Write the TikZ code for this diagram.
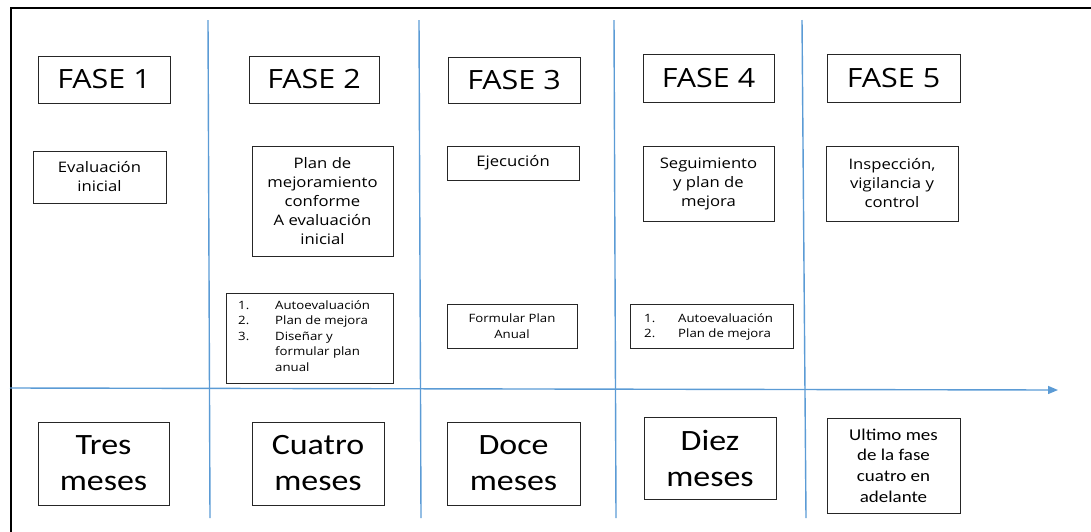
\documentclass[tikz,border=0pt]{standalone}
\usepackage{fontspec}
\setmainfont{Open Sans}[FakeStretch=1.15]
\newfontfamily\calib{Carlito}[FakeStretch=1.15]
\usetikzlibrary{arrows.meta}
\definecolor{axisblue}{RGB}{91,155,213}
\tikzset{
  box/.style={draw=black!85, line width=1pt, inner sep=0pt, align=center},
  fase/.style={box, font=\fontsize{26.5}{32}\selectfont},
  mid/.style={box, font=\fontsize{14.5}{19}\selectfont},
  small/.style={box, font=\fontsize{11.5}{15.5}\selectfont},
  big/.style={box, font=\calib\fontsize{29.5}{36}\selectfont},
  bigs/.style={box, font=\calib\fontsize{16.5}{20.7}\selectfont},
  listtxt/.style={inner sep=0pt, anchor=north west, font=\fontsize{11.5}{15.5}\selectfont},
  sep/.style={draw=axisblue, line width=1.4pt},
}
\begin{document}
\begin{tikzpicture}[x=1pt,y=-1pt]
\useasboundingbox (0,0) rectangle (1091,531);
% outer frame
\coordinate (fb) at (11,531);
\coordinate (ftl) at (11,8);
\coordinate (fr) at (1091,8);
\draw[line width=2pt, line cap=rect] (fb) -- (ftl) -- (fr);
% separators
\coordinate (s1t) at (208,20); \coordinate (s1b) at (210,518);
\coordinate (s2t) at (419,20); \coordinate (s2b) at (421,518);
\coordinate (s3t) at (614,20); \coordinate (s3b) at (616,518);
\coordinate (s4t) at (802,20); \coordinate (s4b) at (806,518);
\draw[sep] (s1t) -- (s1b);
\draw[sep] (s2t) -- (s2b);
\draw[sep] (s3t) -- (s3b);
\draw[sep] (s4t) -- (s4b);
% axis
\coordinate (a0) at (10,388);
\coordinate (a1) at (1058,390);
\draw[sep, -{Triangle[length=10pt,width=8pt]}] (a0) -- (a1);
% phase headers
\node[fase, minimum width=132pt, minimum height=47pt] (f1) at (104,79.5) {FASE 1};
\node[fase, minimum width=130pt, minimum height=47pt] (f2) at (314,79.5) {FASE 2};
\node[fase, minimum width=132pt, minimum height=46pt] (f3) at (514,80) {FASE 3};
\node[fase, minimum width=131pt, minimum height=48pt] (f4) at (708.5,78) {FASE 4};
\node[fase, minimum width=133pt, minimum height=48pt] (f5) at (893.5,78) {FASE 5};
% row 2
\node[mid, minimum width=133pt, minimum height=52pt] (r1) at (99.5,177) {Evaluación\\inicial};
\node[mid, minimum width=141pt, minimum height=110pt] (r2) at (322.5,201) {Plan de\\mejoramiento\\conforme\\A evaluación\\inicial};
\node[mid, minimum width=132pt, minimum height=34pt] (r3) at (513,163) {Ejecución};
\node[mid, minimum width=131pt, minimum height=75pt] (r4) at (708.5,183.5) {Seguimiento\\y plan de\\mejora};
\node[mid, minimum width=132pt, minimum height=75pt] (r5) at (892,183.5) {Inspección,\\vigilancia y\\control};
% row 3
\node[box, minimum width=167pt, minimum height=90pt] (l2) at (309.5,338) {};
\node[listtxt] (l2t) at (238,298) {\begin{tabular}{@{}p{37pt}@{}l@{}}1. & Autoevaluación\\2. & Plan de mejora\\3. & Diseñar y\\ & formular plan\\ & anual\end{tabular}};
\node[small, minimum width=130pt, minimum height=44pt] (fp) at (512,326) {Formular Plan\\Anual};
\node[box, minimum width=163pt, minimum height=44pt] (l4) at (711.5,326) {};
\node[listtxt] (l4t) at (644,311) {\begin{tabular}{@{}p{34pt}@{}l@{}}1. & Autoevaluación\\2. & Plan de mejora\end{tabular}};
% row 4
\node[big, minimum width=131pt, minimum height=83pt] (d1) at (103.5,463.5) {Tres\\meses};
\node[big, minimum width=132pt, minimum height=83pt] (d2) at (318,463.5) {Cuatro\\meses};
\node[big, minimum width=133pt, minimum height=83pt] (d3) at (513.5,463.5) {Doce\\meses};
\node[big, minimum width=132pt, minimum height=82pt] (d4) at (710,458) {Diez\\meses};
\node[bigs, minimum width=133pt, minimum height=95pt] (d5) at (893.5,465.5) {Ultimo mes\\de la fase\\cuatro en\\adelante};
\end{tikzpicture}
\end{document}
